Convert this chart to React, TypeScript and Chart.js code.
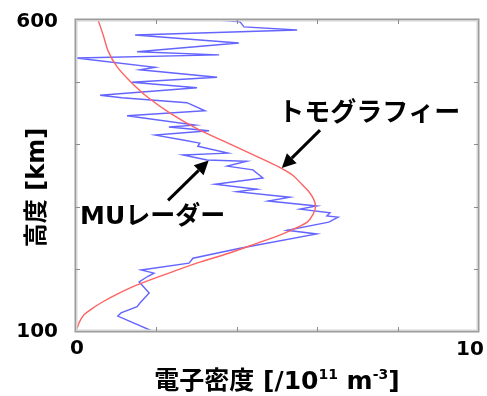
import { useEffect, useRef } from "react";
import { Chart, registerables } from "chart.js";

Chart.register(...registerables);

// Tomography electron density profile (altitude km, density 10^11 m^-3)
const tomoAltitude = [600, 575, 550, 525, 500, 475, 450, 425, 400, 375, 362, 350, 337, 325, 312, 300, 288, 275, 265, 255, 241, 225, 211, 200, 187, 174, 160, 147, 136, 126, 115, 105, 100];
const tomoDensity = [0.55, 0.68, 0.8, 1.02, 1.37, 1.8, 2.35, 3.02, 3.85, 4.68, 5.1, 5.4, 5.6, 5.78, 5.91, 5.96, 5.9, 5.75, 5.45, 5.1, 4.5, 3.8, 3.1, 2.6, 2.05, 1.52, 1.05, 0.67, 0.4, 0.2, 0.09, 0.03, 0];

// MU radar measured profile
const muAltitude = [600, 597, 589, 584, 576, 563, 549, 544, 539, 524, 520, 508, 500, 491, 479, 475, 467, 454, 446, 431, 428, 422, 415, 407, 402, 397, 386, 383, 375, 373, 365, 359, 346, 336, 328, 324, 315, 309, 301, 296, 290, 285, 283, 275, 262, 256, 233, 217, 209, 198, 193, 188, 179, 174, 161, 145, 139, 129, 124, 100];
const muDensity = [3.55, 4.08, 4.18, 5.5, 1.47, 4.05, 1.52, 3.56, 0, 1.97, 1.59, 3.51, 1.39, 3.01, 0.6, 1.14, 2.76, 3.21, 1.27, 2.96, 2.31, 3.31, 1.97, 2.66, 3.08, 3.03, 3.78, 2.66, 3.26, 4.25, 3.76, 4.4, 4.65, 3.46, 4.5, 4.0, 5.32, 4.78, 5.99, 5.57, 6.32, 6.24, 6.52, 6.29, 5.25, 5.99, 4.08, 2.91, 2.81, 1.62, 1.94, 1.79, 1.57, 1.64, 1.82, 1.59, 1.52, 1.12, 1.04, 1.89];

// Axis ranges and marks
const xRange = [0, 10];
const yRange = [100, 600];
const xInnerTicks = [2, 4, 6, 8];
const yInnerTicks = [200, 300, 400, 500];
const xTickLabels = ["0", "10"];
const yTickLabels = ["100", "600"];

const xTitleMain = "電子密度 [/10";
const xTitleExp1 = "11";
const xTitleMid = " m";
const xTitleExp2 = "-3";
const xTitleEnd = "]";
const yTitle = "高度 [km]";

const tomoLabel = "トモグラフィー";
const muLabel = "MUレーダー";
// annotation anchors in data coordinates: [density, altitude]
const tomoText = [5.03, 454];
const tomoArrowFrom = [6.07, 423];
const tomoArrowTo = [5.12, 362];
const muText = [0.1, 283];
const muArrowFrom = [2.29, 310];
const muArrowTo = [3.3, 374];

const LATIN = '"DejaVu Sans", "Noto Sans CJK JP", sans-serif';
const CJK = '"Noto Sans CJK JP", sans-serif';

function arrow(ctx: CanvasRenderingContext2D, x1: number, y1: number, x2: number, y2: number) {
  const ang = Math.atan2(y2 - y1, x2 - x1);
  const head = 14;
  const half = 7;
  const bx = x2 - head * Math.cos(ang);
  const by = y2 - head * Math.sin(ang);
  ctx.save();
  ctx.strokeStyle = "#000";
  ctx.fillStyle = "#000";
  ctx.lineWidth = 3;
  ctx.beginPath();
  ctx.moveTo(x1, y1);
  ctx.lineTo(bx, by);
  ctx.stroke();
  ctx.beginPath();
  ctx.moveTo(x2, y2);
  ctx.lineTo(bx + half * Math.sin(ang), by - half * Math.cos(ang));
  ctx.lineTo(bx - half * Math.sin(ang), by + half * Math.cos(ang));
  ctx.closePath();
  ctx.fill();
  ctx.restore();
}

const decorations = {
  id: "decorations",
  afterDraw(chart: any) {
    const ctx: CanvasRenderingContext2D = chart.ctx;
    const { left, right, top, bottom } = chart.chartArea;
    const xs = chart.scales.x;
    const ys = chart.scales.y;
    ctx.save();

    // frame
    ctx.strokeStyle = "#d4d4d4";
    ctx.lineWidth = 1.5;
    ctx.strokeRect(left + 0.75, top + 0.75, right - left - 1.5, bottom - top - 1.5);
    ctx.strokeStyle = "#9c9c9c";
    ctx.lineWidth = 1.5;
    ctx.strokeRect(left - 0.75, top - 0.75, right - left + 1.5, bottom - top + 1.5);

    // inward tick marks on all sides
    ctx.strokeStyle = "#8c8c8c";
    ctx.lineWidth = 1;
    ctx.beginPath();
    for (const v of xInnerTicks) {
      const px = Math.round(xs.getPixelForValue(v)) + 0.5;
      ctx.moveTo(px, bottom);
      ctx.lineTo(px, bottom - 4);
      ctx.moveTo(px, top);
      ctx.lineTo(px, top + 4);
    }
    for (const v of yInnerTicks) {
      const py = Math.round(ys.getPixelForValue(v)) + 0.5;
      ctx.moveTo(left, py);
      ctx.lineTo(left + 4, py);
      ctx.moveTo(right, py);
      ctx.lineTo(right - 4, py);
    }
    ctx.stroke();

    // tick labels
    ctx.fillStyle = "#000";
    ctx.font = `bold 20px ${LATIN}`;
    ctx.textBaseline = "middle";
    ctx.textAlign = "right";
    ctx.fillText(yTickLabels[0], left - 18, ys.getPixelForValue(yRange[0]) + 1);
    ctx.fillText(yTickLabels[1], left - 18, ys.getPixelForValue(yRange[1]) + 2);
    ctx.textAlign = "center";
    ctx.fillText(xTickLabels[0], xs.getPixelForValue(xRange[0]) + 1, bottom + 18);
    ctx.fillText(xTickLabels[1], xs.getPixelForValue(xRange[1]) - 8, bottom + 19);

    // x title with superscripts
    const big = `bold 25px ${LATIN}`;
    const small = `bold 14px ${LATIN}`;
    const parts: [string, string, number][] = [
      [xTitleMain, big, 0],
      [xTitleExp1, small, -7],
      [xTitleMid, big, 0],
      [xTitleExp2, small, -7],
      [xTitleEnd, big, 0],
    ];
    let total = 0;
    for (const [t, f] of parts) {
      ctx.font = f;
      total += ctx.measureText(t).width;
    }
    let cx = (left + right) / 2 - total / 2;
    const ty = bottom + 51;
    ctx.textAlign = "left";
    for (const [t, f, dy] of parts) {
      ctx.font = f;
      ctx.fillText(t, cx, ty + dy);
      cx += ctx.measureText(t).width;
    }

    // y title
    ctx.save();
    ctx.translate(left - 38, (top + bottom) / 2 + 12);
    ctx.rotate(-Math.PI / 2);
    ctx.font = `bold 24px ${LATIN}`;
    ctx.textAlign = "center";
    ctx.fillText(yTitle, 0, 0);
    ctx.restore();

    // annotations
    ctx.font = `bold 26px ${CJK}`;
    ctx.textAlign = "left";
    ctx.fillText(tomoLabel, xs.getPixelForValue(tomoText[0]), ys.getPixelForValue(tomoText[1]));
    ctx.font = `bold 25px ${LATIN}`;
    ctx.fillText(muLabel, xs.getPixelForValue(muText[0]), ys.getPixelForValue(muText[1]));
    arrow(ctx, xs.getPixelForValue(tomoArrowFrom[0]), ys.getPixelForValue(tomoArrowFrom[1]), xs.getPixelForValue(tomoArrowTo[0]), ys.getPixelForValue(tomoArrowTo[1]));
    arrow(ctx, xs.getPixelForValue(muArrowFrom[0]), ys.getPixelForValue(muArrowFrom[1]), xs.getPixelForValue(muArrowTo[0]), ys.getPixelForValue(muArrowTo[1]));

    ctx.restore();
  },
};

export default function App() {
  const ref = useRef<HTMLCanvasElement | null>(null);

  useEffect(() => {
    if (!ref.current) return;
    const chart = new Chart(ref.current, {
      type: "scatter",
      data: {
        datasets: [
          {
            label: tomoLabel,
            data: tomoDensity.map((d, i) => ({ x: d, y: tomoAltitude[i] })),
            showLine: true,
            borderColor: "#ff6262",
            borderWidth: 1.4,
            pointRadius: 0,
            tension: 0.3,
          },
          {
            label: muLabel,
            data: muDensity.map((d, i) => ({ x: d, y: muAltitude[i] })),
            showLine: true,
            borderColor: "#6464ff",
            borderWidth: 1.4,
            pointRadius: 0,
            tension: 0,
          },
        ],
      },
      options: {
        animation: false,
        responsive: false,
        devicePixelRatio: 1,
        layout: { padding: { top: 20, right: 9, left: 0, bottom: 0 } },
        plugins: { legend: { display: false }, tooltip: { enabled: false } },
        scales: {
          x: {
            type: "linear",
            min: xRange[0],
            max: xRange[1],
            grid: { display: false },
            border: { display: false },
            ticks: { display: false },
            afterFit: (s: any) => {
              s.height = 65;
            },
          },
          y: {
            type: "linear",
            min: yRange[0],
            max: yRange[1],
            grid: { display: false },
            border: { display: false },
            ticks: { display: false },
            afterFit: (s: any) => {
              s.width = 76;
            },
          },
        },
      },
      plugins: [decorations],
    });
    return () => chart.destroy();
  }, []);

  return (
    <div style={{ position: "fixed", left: 0, top: 0, width: 487, height: 396, background: "#fff" }}>
      <canvas ref={ref} width={487} height={396} />
    </div>
  );
}
